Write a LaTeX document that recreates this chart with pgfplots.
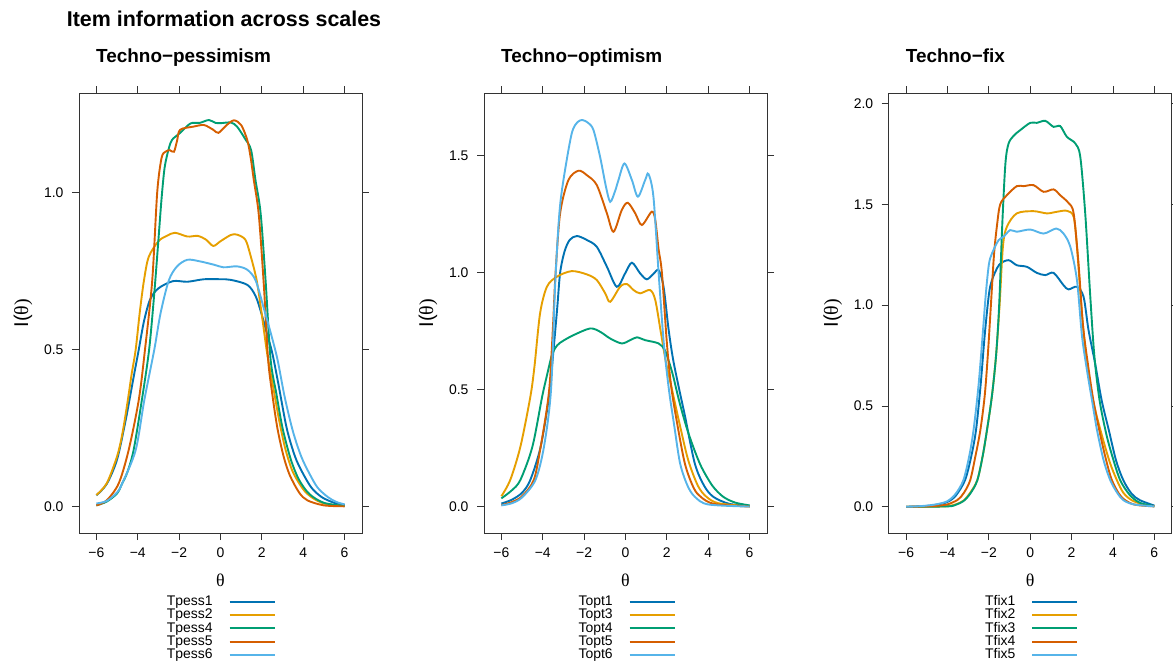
\documentclass[border=0pt]{standalone}
\usepackage{fontspec}
\setmainfont{Liberation Sans}
\newfontfamily\grk{Liberation Serif}
\usepackage{pgfplots}
\pgfplotsset{compat=1.18}

\definecolor{cblue}{HTML}{0072B2}
\definecolor{corange}{HTML}{E69F00}
\definecolor{cgreen}{HTML}{009E73}
\definecolor{cverm}{HTML}{D55E00}
\definecolor{csky}{HTML}{56B4E9}

\pgfplotsset{
  lat/.style={
    scale only axis, width=283bp, height=440bp, anchor=north west,
    xmin=-6.84, xmax=6.84,
    xtick={-6,-4,-2,0,2,4,6}, xticklabels={−6,−4,−2,0,2,4,6},
    tick align=outside, xtick pos=both, ytick pos=both,
    major tick length=7bp,
    axis line style={black!80, line width=0.9bp},
    every tick/.style={black!80, line width=0.9bp},
    tick label style={font=\fontsize{14}{15}\selectfont},
    xticklabel style={yshift=-4bp},
    yticklabel style={xshift=-5bp},
    xlabel={\grk θ}, ylabel={I(\grk θ)},
    every axis x label/.style={at={([yshift=-47bp]axis description cs:0.5,0)}, anchor=center, font=\fontsize{18}{18}\selectfont},
    every axis y label/.style={at={([xshift=-56bp]axis description cs:0,0.5)}, anchor=center, rotate=90, font=\fontsize{20}{20}\selectfont},
    every axis title/.style={at={([yshift=30.3bp]axis description cs:0.06,1)}, anchor=base west, inner sep=0pt, font=\bfseries\fontsize{19}{21}\selectfont},
    legend plot pos=right,
    legend image code/.code={\draw[#1, line width=2bp] (0bp,0bp) -- (45bp,0bp);},
    legend style={anchor=north west, draw=none, fill=none, inner sep=0pt,
      font=\fontsize{14}{14}\selectfont, column sep=16bp, row sep=1.3bp,
      nodes={inner sep=0pt, text height=10bp, text depth=2bp},
      cells={anchor=west}},
    every axis plot/.append style={line width=1.9bp, smooth, tension=0.5},
  },
}

\begin{document}
\begin{tikzpicture}
\useasboundingbox (0,0) rectangle (1173bp,-661bp);
\node[anchor=base west, inner sep=0pt, font=\bfseries\fontsize{21.5}{24}\selectfont] at (66.7bp,-26.7bp) {Item information across scales};

% Techno-pessimism
\begin{axis}[lat, at={(79bp,-93bp)},
  ymin=-0.084, ymax=1.317, ytick={0,0.5,1}, yticklabels={0.0,0.5,1.0},
  title={Techno−pessimism},
  legend style={at={(0.31,-0.1418)}}]
\addplot[cblue] coordinates {(-6,0.036) (-5.5,0.072) (-5,0.15) (-4.6,0.27) (-4.4,0.34) (-4.15,0.43) (-3.95,0.5) (-3.7,0.59) (-3.4,0.66) (-3.0,0.695) (-2.3,0.718) (-1.6,0.716) (-0.8,0.724) (0,0.724) (0.5,0.722) (1.3,0.706) (1.7,0.67) (2.0,0.61) (2.25,0.55) (2.5,0.49) (2.8,0.39) (3.2,0.25) (3.6,0.16) (3.95,0.11) (4.4,0.06) (4.9,0.03) (5.5,0.012) (6,0.005)};
\addplot[corange] coordinates {(-6,0.037) (-5.5,0.074) (-5,0.16) (-4.75,0.23) (-4.5,0.33) (-4.3,0.42) (-4.1,0.50) (-3.9,0.62) (-3.7,0.72) (-3.47,0.795) (-3.0,0.845) (-2.6,0.862) (-2.2,0.872) (-1.6,0.86) (-1.1,0.862) (-0.7,0.85) (-0.35,0.83) (0,0.845) (0.5,0.865) (0.8,0.866) (1.2,0.85) (1.45,0.80) (1.75,0.72) (2.0,0.61) (2.25,0.49) (2.55,0.38) (2.85,0.27) (3.15,0.18) (3.5,0.11) (4.0,0.055) (4.4,0.03) (5,0.01) (6,0.002)};
\addplot[cgreen] coordinates {(-6,0.004) (-5.5,0.016) (-5,0.042) (-4.75,0.074) (-4.5,0.11) (-4.2,0.18) (-3.8,0.34) (-3.45,0.50) (-3.2,0.68) (-3.0,0.85) (-2.85,0.98) (-2.7,1.08) (-2.5,1.14) (-2.34,1.168) (-1.95,1.19) (-1.45,1.22) (-1.0,1.222) (-0.56,1.231) (-0.25,1.222) (0,1.221) (0.5,1.223) (0.8,1.21) (1.2,1.17) (1.48,1.135) (1.69,1.04) (1.94,0.934) (2.18,0.72) (2.42,0.47) (2.7,0.36) (3.0,0.25) (3.4,0.15) (3.8,0.085) (4.3,0.04) (5,0.012) (6,0.002)};
\addplot[cverm] coordinates {(-6,0.004) (-5.5,0.02) (-4.92,0.074) (-4.44,0.18) (-3.95,0.34) (-3.65,0.50) (-3.3,0.72) (-3.06,1.0) (-2.85,1.11) (-2.66,1.13) (-2.45,1.135) (-2.25,1.13) (-2.1,1.165) (-1.95,1.2) (-1.3,1.21) (-0.8,1.215) (-0.35,1.2) (-0.1,1.19) (0.3,1.215) (0.65,1.23) (1.0,1.215) (1.29,1.168) (1.45,1.115) (1.61,1.04) (1.85,0.93) (2.1,0.70) (2.3,0.47) (2.5,0.36) (2.75,0.25) (3.05,0.16) (3.35,0.10) (3.8,0.045) (4.2,0.02) (5,0.004) (6,0.001)};
\addplot[csky] coordinates {(-6,0.01) (-5.5,0.018) (-5,0.045) (-4.75,0.074) (-4.1,0.18) (-3.68,0.34) (-3.2,0.5) (-2.9,0.615) (-2.5,0.72) (-2.1,0.765) (-1.6,0.786) (-1.0,0.781) (-0.3,0.77) (0.15,0.762) (0.8,0.765) (1.3,0.754) (1.7,0.72) (2.1,0.63) (2.4,0.56) (2.75,0.47) (3.1,0.35) (3.5,0.24) (3.9,0.16) (4.3,0.105) (4.7,0.06) (5.2,0.03) (5.6,0.015) (6,0.007)};
\legend{Tpess1,Tpess2,Tpess4,Tpess5,Tpess6}
\end{axis}

% Techno-optimism
\begin{axis}[lat, at={(484bp,-93bp)},
  ymin=-0.112, ymax=1.768, ytick={0,0.5,1,1.5}, yticklabels={0.0,0.5,1.0,1.5},
  title={Techno−optimism},
  legend style={at={(0.3336,-0.1418)}}]
\addplot[cblue] coordinates {(-6,0.014) (-5.5,0.03) (-5,0.06) (-4.6,0.115) (-4.1,0.257) (-3.7,0.47) (-3.5,0.65) (-3.3,0.85) (-3.16,1.0) (-2.95,1.09) (-2.7,1.14) (-2.35,1.157) (-1.87,1.14) (-1.39,1.111) (-0.9,1.026) (-0.42,0.94) (-0.02,0.997) (0.31,1.043) (0.71,0.997) (1.03,0.972) (1.35,0.995) (1.6,1.011) (1.84,0.94) (2.08,0.76) (2.3,0.63) (2.6,0.5) (2.87,0.39) (3.35,0.185) (3.8,0.09) (4.24,0.043) (5,0.013) (6,0.003)};
\addplot[corange] coordinates {(-6,0.045) (-5.57,0.115) (-5.08,0.257) (-4.6,0.47) (-4.4,0.6) (-4.13,0.826) (-3.8,0.94) (-3.32,0.983) (-2.6,1.007) (-1.87,0.993) (-1.39,0.969) (-0.98,0.912) (-0.74,0.876) (-0.26,0.94) (0.06,0.952) (0.39,0.926) (0.71,0.912) (1.19,0.926) (1.44,0.883) (1.7,0.75) (1.95,0.62) (2.2,0.52) (2.6,0.36) (3.03,0.2) (3.5,0.09) (3.91,0.043) (4.5,0.015) (6,0.002)};
\addplot[cgreen] coordinates {(-6,0.036) (-5.5,0.07) (-5.08,0.115) (-4.5,0.257) (-4.03,0.47) (-3.8,0.56) (-3.55,0.65) (-3.3,0.69) (-3.0,0.71) (-2.5,0.734) (-1.71,0.762) (-1.23,0.748) (-0.74,0.719) (-0.18,0.698) (0.23,0.712) (0.55,0.724) (0.95,0.712) (1.6,0.698) (1.9,0.67) (2.1,0.62) (2.3,0.56) (2.6,0.45) (2.95,0.34) (3.3,0.25) (3.67,0.17) (4.2,0.09) (4.72,0.043) (5.3,0.018) (6,0.006)};
\addplot[cverm] coordinates {(-6,0.007) (-5.5,0.02) (-5,0.045) (-4.43,0.115) (-4.1,0.257) (-3.8,0.42) (-3.65,0.54) (-3.5,0.78) (-3.38,1.0) (-3.16,1.254) (-2.76,1.396) (-2.27,1.436) (-1.87,1.417) (-1.39,1.375) (-0.9,1.254) (-0.58,1.175) (-0.18,1.268) (0.11,1.299) (0.47,1.254) (0.79,1.204) (1.27,1.261) (1.44,1.225) (1.6,1.1) (1.76,1.0) (2.0,0.7) (2.2,0.52) (2.45,0.38) (2.87,0.185) (3.3,0.08) (3.67,0.04) (4.3,0.012) (6,0.001)};
\addplot[csky] coordinates {(-6,0.006) (-5.5,0.015) (-5,0.04) (-4.35,0.115) (-3.94,0.257) (-3.6,0.5) (-3.4,0.95) (-3.2,1.25) (-3.0,1.396) (-2.6,1.595) (-2.3,1.645) (-2.06,1.652) (-1.8,1.64) (-1.55,1.61) (-1.23,1.496) (-0.95,1.37) (-0.74,1.303) (-0.5,1.35) (-0.34,1.396) (-0.05,1.467) (0.31,1.396) (0.6,1.325) (0.95,1.396) (1.11,1.422) (1.35,1.325) (1.6,1.0) (1.85,0.7) (2.1,0.5) (2.35,0.35) (2.64,0.185) (3.0,0.09) (3.35,0.043) (4,0.01) (6,0.001)};
\legend{Topt1,Topt3,Topt4,Topt5,Topt6}
\end{axis}

% Techno-fix
\begin{axis}[lat, at={(888.7bp,-93bp)},
  ymin=-0.13, ymax=2.052, ytick={0,0.5,1,1.5,2}, yticklabels={0.0,0.5,1.0,1.5,2.0},
  title={Techno−fix},
  legend style={at={(0.34,-0.1418)}}]
\addplot[cblue] coordinates {(-6,0) (-5,0.004) (-4.5,0.011) (-4,0.024) (-3.6,0.055) (-3.15,0.132) (-2.85,0.25) (-2.62,0.38) (-2.4,0.6) (-2.2,0.85) (-2.0,1.05) (-1.85,1.124) (-1.5,1.2) (-1.05,1.223) (-0.65,1.198) (-0.16,1.19) (0.32,1.16) (0.73,1.149) (1.13,1.16) (1.61,1.099) (1.85,1.078) (2.26,1.091) (2.58,1.041) (2.82,0.876) (3.14,0.71) (3.45,0.53) (3.8,0.38) (4.15,0.23) (4.5,0.132) (4.9,0.065) (5.3,0.033) (6,0.006)};
\addplot[corange] coordinates {(-6,0) (-4.5,0.001) (-4,0.003) (-3.6,0.012) (-3.23,0.03) (-2.9,0.07) (-2.56,0.132) (-2.3,0.25) (-2.09,0.38) (-1.85,0.55) (-1.65,0.75) (-1.48,1.0) (-1.32,1.289) (-1.13,1.388) (-0.65,1.455) (0.16,1.466) (0.81,1.455) (1.29,1.463) (1.77,1.468) (2.1,1.438) (2.26,1.289) (2.5,0.96) (2.75,0.7) (3.05,0.52) (3.45,0.36) (3.85,0.22) (4.19,0.132) (4.5,0.07) (4.9,0.033) (5.5,0.01) (6,0.003)};
\addplot[cgreen] coordinates {(-6,0) (-4,0.002) (-3.6,0.01) (-3.23,0.028) (-2.9,0.065) (-2.56,0.13) (-2.3,0.25) (-2.09,0.38) (-1.85,0.55) (-1.65,0.75) (-1.5,1.0) (-1.35,1.4) (-1.2,1.7) (-1.05,1.8) (-0.8,1.84) (-0.48,1.868) (0,1.904) (0.32,1.904) (0.73,1.914) (1.13,1.884) (1.45,1.888) (1.77,1.835) (2.18,1.802) (2.42,1.736) (2.66,1.455) (2.9,1.05) (3.1,0.75) (3.35,0.53) (3.68,0.36) (4.0,0.24) (4.35,0.132) (4.8,0.06) (5.3,0.02) (6,0.003)};
\addplot[cverm] coordinates {(-6,0) (-5,0.002) (-4.5,0.005) (-4,0.012) (-3.5,0.035) (-3.2,0.07) (-2.9,0.132) (-2.65,0.25) (-2.41,0.38) (-2.2,0.55) (-2.05,0.75) (-1.9,1.0) (-1.75,1.25) (-1.6,1.4) (-1.45,1.5) (-1.13,1.545) (-0.65,1.59) (-0.32,1.59) (0.16,1.595) (0.65,1.562) (1.13,1.574) (1.45,1.545) (1.85,1.507) (2.1,1.455) (2.34,1.2) (2.55,0.9) (2.8,0.7) (3.05,0.53) (3.36,0.37) (3.65,0.24) (3.95,0.132) (4.4,0.05) (5,0.012) (6,0.002)};
\addplot[csky] coordinates {(-6,0) (-5.5,0.002) (-5,0.006) (-4.5,0.013) (-4,0.028) (-3.6,0.065) (-3.23,0.132) (-2.95,0.25) (-2.74,0.38) (-2.5,0.6) (-2.3,0.85) (-2.15,1.05) (-2.0,1.2) (-1.85,1.256) (-1.53,1.322) (-1.29,1.339) (-0.97,1.372) (-0.65,1.364) (0,1.375) (0.65,1.355) (1.26,1.38) (1.61,1.355) (1.94,1.289) (2.26,1.124) (2.5,0.85) (2.74,0.68) (3.0,0.52) (3.23,0.38) (3.55,0.23) (3.87,0.132) (4.2,0.07) (4.5,0.033) (5,0.012) (6,0.002)};
\legend{Tfix1,Tfix2,Tfix3,Tfix4,Tfix5}
\end{axis}
\end{tikzpicture}
\end{document}
